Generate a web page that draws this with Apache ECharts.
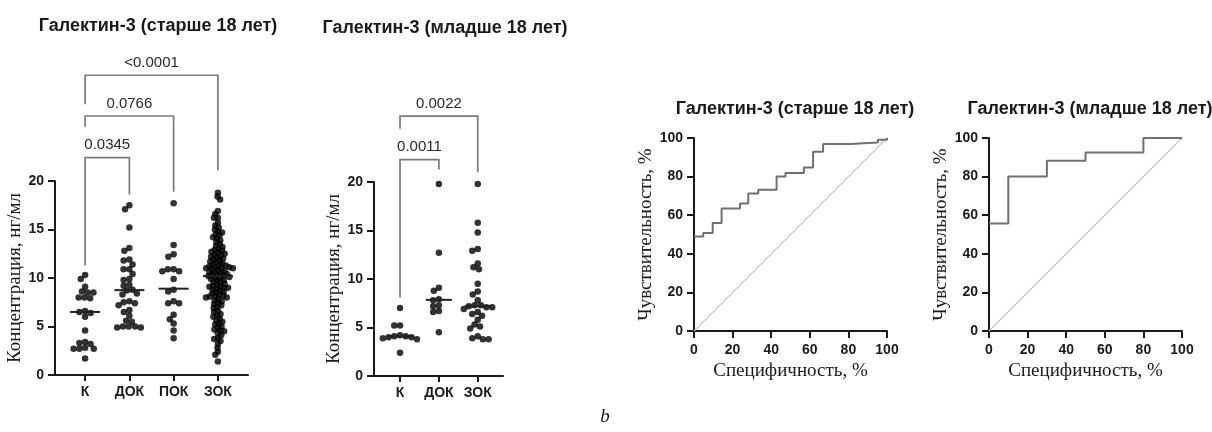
<!DOCTYPE html>
<html><head><meta charset="utf-8">
<script src="https://cdn.jsdelivr.net/npm/echarts@6/dist/echarts.min.js"></script>
<style>html,body{margin:0;padding:0;background:#fff}#c{width:1212px;height:432px}</style>
</head><body><div id="c"></div>
<script>
// ---------- DATA ----------
const groups1 = ['К', 'ДОК', 'ПОК', 'ЗОК'];
const groups2 = ['К', 'ДОК', 'ЗОК'];
const titles = ['Галектин-3 (старше 18 лет)', 'Галектин-3 (младше 18 лет)'];
const yTicks = [0, 5, 10, 15, 20];
const rocTicks = [0, 20, 40, 60, 80, 100];

// older than 18: concentrations, ng/ml
const adultK = [10.3, 9.9, 9.1, 8.6, 8.5, 8.5, 8.0, 8.0, 7.9, 6.6, 6.5, 6.4, 6.0, 4.6, 3.4, 3.3, 3.2, 2.8, 2.7, 2.7, 2.7, 1.7];
const adultDOK = [17.5, 17.1, 15.2, 13.1, 12.8, 11.9, 11.8, 11.4, 10.9, 10.9, 10.4, 9.9, 9.8, 9.3, 9.2, 8.8, 8.7, 8.4, 8.3, 7.6, 7.5, 7.4, 7.2, 6.7, 6.5, 6.1, 5.6, 5.5, 5.0, 5.0, 4.9, 4.9, 5.0];
const adultPOK = [17.7, 13.4, 12.45, 12.2, 10.9, 10.9, 10.7, 10.7, 9.9, 8.8, 8.6, 7.6, 7.4, 7.4, 6.2, 5.75, 5.3, 4.6, 3.8];
const adultZOK = [18.8, 18.4, 18.1, 16.9, 16.6, 16.2, 16.2, 15.7, 15.4, 15.2, 15.0,
  14.8, 14.7, 14.5, 14.4, 14.2, 14.1, 13.9, 13.7, 13.5, 13.3, 13.2, 13.0,
  12.9, 12.8, 12.7, 12.6, 12.5, 12.4, 12.3, 12.2, 12.1, 12.0,
  11.9, 11.8, 11.7, 11.6, 11.5, 11.4, 11.3, 11.3, 11.2, 11.1, 11.1, 11.0, 11.0, 11.0,
  10.9, 10.8, 10.7, 10.6, 10.6, 10.5, 10.4, 10.3, 10.3, 10.2, 10.2, 10.1, 10.0, 10.0,
  9.9, 9.8, 9.7, 9.6, 9.5, 9.4, 9.3, 9.2, 9.1, 9.0, 9.0, 9.1,
  8.9, 8.8, 8.7, 8.6, 8.5, 8.4, 8.3, 8.2, 8.1, 8.0, 8.0, 8.1,
  7.8, 7.6, 7.4, 7.2, 7.0, 7.3, 7.7, 6.9, 6.6, 6.3, 6.0, 6.1, 6.5,
  5.8, 5.5, 5.2, 5.0, 5.6, 5.3, 4.9, 4.7, 4.5, 4.3, 4.6, 4.1,
  3.8, 3.5, 3.2, 3.7, 2.8, 2.4, 2.1, 1.4];
const adultMedians = [6.5, 8.75, 8.9, 10.2];

// younger than 18
const childK = [7.0, 5.2, 5.2, 4.2, 4.1, 4.1, 4.0, 4.0, 3.9, 3.8, 2.4];
const childDOK = [19.8, 12.7, 9.1, 8.8, 7.9, 7.8, 7.3, 7.2, 6.7, 6.6, 4.5];
const childZOK = [19.8, 15.8, 14.8, 13.1, 12.9, 11.6, 11.2, 11.0, 9.5, 8.7, 8.4, 7.8, 7.3, 7.3, 7.2, 7.1, 7.1, 6.9, 6.6, 6.4, 6.2, 5.8, 5.3, 5.1, 4.9, 4.1, 3.9, 3.8, 3.8];
const childMedians = [4.1, 7.85, 7.2];

// significance brackets: [from group, to group, top, left leg end, right leg end]
const adultBrackets = [[1, 2, 22.4, 11.3, 18.6], [1, 3, 26.7, 25.6, 18.9], [1, 4, 30.9, 27.9, 21.1]];
const adultPvalues = ['0.0345', '0.0766', '<0.0001'];
const childBrackets = [[1, 2, 22.3, 8.1, 21.3], [1, 3, 26.8, 25.5, 21.0]];
const childPvalues = ['0.0011', '0.0022'];

// ROC curves (specificity %, sensitivity %)
const rocAdultX = [0, 4.8, 9.7, 14.3, 23.8, 28.1, 33.3, 42.8, 47.4, 56.9, 61.7, 66.9, 81, 95.3, 100];
const rocAdultY = [49, 50.8, 56, 63.5, 66.1, 71.3, 73.2, 80, 81.9, 84.7, 92.9, 96.9, 97.7, 99.1, 100];
const rocChildX = [0, 10, 30, 50, 80, 100];
const rocChildY = [55.7, 80, 88.2, 92.5, 100, 100];
const diagX = [0, 100];
const diagY = [0, 100];

// ---------- CHART ----------
const SANS = 'Liberation Sans, Arial, sans-serif';
const SERIF = 'Liberation Serif, Times New Roman, serif';
const INK = '#1a1a1a';
const chart = echarts.init(document.getElementById('c'));

const axisLine = { show: true, lineStyle: { color: INK, width: 2 } };
const axisTick = { show: true, length: 7, lineStyle: { color: INK, width: 2 } };
const tickLabel = { color: INK, fontFamily: SANS, fontWeight: 'bold', fontSize: 14, margin: 11 };

function catX(grid, min, max, names) {
  const vals = names.map((_, i) => i + 1);
  return {
    type: 'value', gridIndex: grid, min, max, splitLine: { show: false },
    axisLine, axisTick: Object.assign({}, axisTick, { customValues: vals, length: 6 }),
    axisLabel: Object.assign({}, tickLabel, { fontSize: 14, margin: 10, customValues: vals, formatter: v => names[Math.round(v) - 1] || '' })
  };
}
function concY(grid) {
  return {
    type: 'value', gridIndex: grid, min: yTicks[0], max: yTicks[yTicks.length - 1], interval: 5,
    splitLine: { show: false }, axisLine, axisTick, axisLabel: tickLabel,
    name: 'Концентрация, нг/мл', nameLocation: 'middle', nameGap: 28,
    nameTextStyle: { fontFamily: SERIF, fontSize: 19, color: INK }
  };
}
function rocAxis(grid, isY) {
  return {
    type: 'value', gridIndex: grid, min: rocTicks[0], max: rocTicks[rocTicks.length - 1], interval: 20, splitLine: { show: false },
    axisLine, axisTick, axisLabel: Object.assign({}, tickLabel, { fontSize: 14, margin: isY ? 11 : 12 }),
    name: isY ? 'Чувствительность, %' : 'Специфичность, %', nameLocation: 'middle',
    nameGap: isY ? 37 : 31,
    nameTextStyle: { fontFamily: SERIF, fontSize: 19, color: INK }
  };
}
const titleStyle = { fontFamily: SANS, fontWeight: 'bold', fontSize: 18, color: INK };

const base = {
  animation: false,
  backgroundColor: '#fff',
  title: [
    { text: titles[0], left: 153, top: 12, textAlign: 'center', textStyle: titleStyle },
    { text: titles[1], left: 440, top: 14, textAlign: 'center', textStyle: titleStyle },
    { text: titles[0], left: 790, top: 95, textAlign: 'center', textStyle: titleStyle },
    { text: titles[1], left: 1085, top: 95, textAlign: 'center', textStyle: titleStyle },
    { text: 'b', left: 600, top: 402, textAlign: 'center', textStyle: { fontFamily: SERIF, fontStyle: 'italic', fontWeight: 'normal', fontSize: 19, color: INK } }
  ],
  grid: [
    { left: 55, right: 964, top: 181, bottom: 57 },
    { left: 374, right: 709, top: 182, bottom: 56 },
    { left: 694, right: 325, top: 138, bottom: 101 },
    { left: 989, right: 30, top: 138, bottom: 101 }
  ],
  xAxis: [catX(0, 0.32, 4.68, groups1), catX(1, 0.33, 3.65, groups2), rocAxis(2, false), rocAxis(3, false)],
  yAxis: [concY(0), concY(1), rocAxis(2, true), rocAxis(3, true)],
  series: []
};
chart.setOption(base);

// beeswarm layout in pixel space
function swarm(ysPx, d) {
  const order = ysPx.map((y, i) => i).sort((a, b) => ysPx[a] - ysPx[b]);
  const placed = [], off = new Array(ysPx.length).fill(0);
  for (const i of order) {
    const y = ysPx[i];
    const cands = [0];
    for (const p of placed) {
      const dy = Math.abs(p.y - y);
      if (dy < d) { const dx = Math.sqrt(d * d - dy * dy); cands.push(p.x + dx + 0.01, p.x - dx - 0.01); }
    }
    cands.sort((a, b) => Math.abs(a) - Math.abs(b) || a - b);
    let chosen = cands[cands.length - 1];
    for (const c of cands) {
      if (placed.every(p => (p.x - c) ** 2 + (p.y - y) ** 2 >= d * d - 0.01)) { chosen = c; break; }
    }
    placed.push({ x: chosen, y }); off[i] = chosen;
  }
  return off;
}
function swarmData(grid, groupIndex, values, d) {
  const ys = values.map(v => chart.convertToPixel({ gridIndex: grid }, [groupIndex, v])[1]);
  const p0 = chart.convertToPixel({ gridIndex: grid }, [groupIndex, 0])[0];
  const p1 = chart.convertToPixel({ gridIndex: grid }, [groupIndex + 1, 0])[0];
  const off = swarm(ys, d);
  return values.map((v, i) => [groupIndex + off[i] / (p1 - p0), v]);
}

const DOT = 6.5;
const series = [];
function dots(grid, groupsVals) {
  let data = [];
  groupsVals.forEach((vals, gi) => {
    const gap = vals.length > 60 ? 3.9 : 5.8;
    data = data.concat(swarmData(grid, gi + 1, vals, gap));
  });
  series.push({ type: 'scatter', xAxisIndex: grid, yAxisIndex: grid, data, symbolSize: DOT, itemStyle: { color: '#000' }, z: 3 });
}
function medians(grid, meds, hw) {
  series.push({
    type: 'custom', xAxisIndex: grid, yAxisIndex: grid, z: 4,
    data: meds.map((m, i) => [i + 1, m]),
    renderItem: (params, api) => {
      const p = api.coord([api.value(0), api.value(1)]);
      return { type: 'line', shape: { x1: p[0] - hw, y1: p[1], x2: p[0] + hw, y2: p[1] }, style: { stroke: '#222', lineWidth: 2 } };
    }
  });
}
function brackets(grid, br, labels) {
  series.push({
    type: 'custom', xAxisIndex: grid, yAxisIndex: grid, clip: false, z: 2,
    data: br,
    renderItem: (params, api) => {
      const f = api.value(0), t = api.value(1), top = api.value(2), le = api.value(3), re = api.value(4);
      const a = api.coord([f, le]), b = api.coord([f, top]), c = api.coord([t, top]), d = api.coord([t, re]);
      return {
        type: 'group', children: [
          { type: 'polyline', shape: { points: [a, b, c, d] }, style: { stroke: '#7a7a7a', lineWidth: 1.7, fill: null } },
          { type: 'text', style: { text: labels[params.dataIndex], x: (b[0] + c[0]) / 2, y: b[1] - 5, align: 'center', verticalAlign: 'bottom', font: '15px ' + SANS, fill: '#2a2a2a' } }
        ]
      };
    }
  });
}
function roc(grid, xs, ys) {
  series.push({
    type: 'line', xAxisIndex: grid, yAxisIndex: grid, data: diagX.map((x, i) => [x, diagY[i]]),
    symbol: 'none', lineStyle: { color: '#c8c8c8', width: 1.2 }, z: 2
  });
  series.push({
    type: 'line', xAxisIndex: grid, yAxisIndex: grid, step: 'end', data: xs.map((x, i) => [x, ys[i]]),
    symbol: 'none', lineStyle: { color: '#707070', width: 2 }, z: 3
  });
}

dots(0, [adultK, adultDOK, adultPOK, adultZOK]);
medians(0, adultMedians, 15);
brackets(0, adultBrackets, adultPvalues);
dots(1, [childK, childDOK, childZOK]);
medians(1, childMedians, 13);
brackets(1, childBrackets, childPvalues);
roc(2, rocAdultX, rocAdultY);
roc(3, rocChildX, rocChildY);

chart.setOption({ series });
</script>
</body></html>
